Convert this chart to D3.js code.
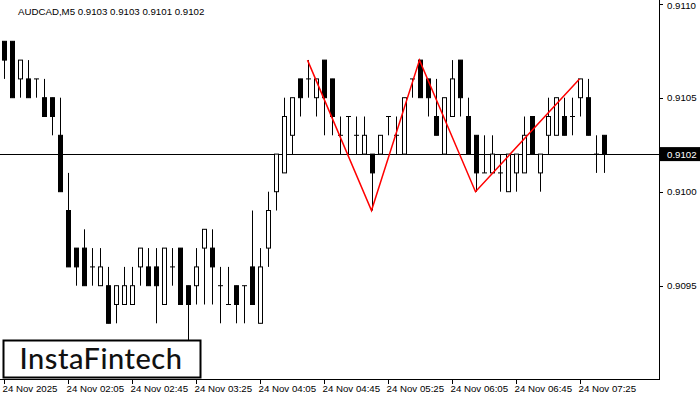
<!DOCTYPE html>
<html><head><meta charset="utf-8">
<script src="https://cdn.jsdelivr.net/npm/d3@7"></script>
<style>body{margin:0;background:#fff}svg{display:block;font-family:"Liberation Sans",sans-serif}</style>
</head><body><svg id="chart" width="700" height="400"></svg>
<script>
// price levels in pips above 0.9100
var opens  = [8,8,6,6,6,5,5,3,-1,-3,-3,-4,-5,-5,-6,-6,-6,-4,-4,-4,-6,-4,-3,-5,-5,-3,-3,-5,-6,-5,-5,-4,-7,-3,0,1,3,6,6,5,7,6,3,4,3,2,2,2,4,3,2,6,7,6,4,2,4,7,4,3,1,1,1,0,1,1,4,1,3,3,4,4,5,5,2,3];
var highs  = [8,8,7,7,6,6,5,5,1,-3,-2,-3,-3,-4,-5,-4,-4,-3,-3,-3,-3,-3,-3,-5,-3,-2,-2,-4,-4,-5,-5,-1,-3,0,2,5,5,6,7,6,7,6,4,4,4,4,2,3,4,4,5,6,7,6,6,5,7,7,5,3,3,3,2,2,2,4,4,2,5,5,5,5,6,6,3,3];
var lows   = [6,5,5,5,5,4,3,0,-4,-5,-5,-5,-5,-7,-7,-6,-6,-5,-5,-7,-6,-5,-6,-8,-6,-6,-6,-7,-6,-7,-7,-6,-7,-4,-1,1,2,4,5,4,3,3,2,2,2,2,-1,2,3,2,2,5,5,4,3,2,4,4,2,0,1,1,0,0,0,1,2,0,2,3,3,3,4,3,1,1];
var closes = [7,5,7,5,6,4,4,0,-4,-4,-5,-4,-4,-7,-5,-5,-5,-3,-5,-5,-3,-4,-6,-6,-4,-2,-4,-5,-6,-6,-5,-6,-4,-1,2,4,5,5,6,6,5,4,3,4,3,3,1,3,4,3,5,6,5,5,3,5,6,5,2,1,1,2,1,2,2,3,2,2,4,5,3,4,6,3,2,2];
var patternIdx = [38,46,52,59,72];
var patternLvl = [7,-1,7,0,6];
var priceTicks = [0.9110,0.9105,0.9100,0.9095];
var timeLabels = ["24 Nov 2025","24 Nov 02:05","24 Nov 02:45","24 Nov 03:25","24 Nov 04:05","24 Nov 04:45","24 Nov 05:25","24 Nov 06:05","24 Nov 06:45","24 Nov 07:25"];
var lastPrice = 0.9102;

var svg = d3.select("#chart");
var x = d3.scaleLinear().domain([0,1]).range([3.5,11.5]);
var y = d3.scaleLinear().domain([0.9100,0.9105]).range([191.7,97.7]);
var p = function(l){ return 0.9100 + l*0.0001; };
var fs = 9.7;

// frame
svg.append("line").attr("x1",659.5).attr("x2",659.5).attr("y1",0).attr("y2",380).attr("stroke","#000");
svg.append("line").attr("x1",0).attr("x2",660).attr("y1",379.5).attr("y2",379.5).attr("stroke","#000");

// price line
svg.append("line").attr("x1",0).attr("x2",659).attr("y1",Math.round(y(lastPrice))+0.5).attr("y2",Math.round(y(lastPrice))+0.5).attr("stroke","#000");

var c = svg.selectAll("g.c").data(opens).enter().append("g");
c.append("line")
  .attr("x1",function(d,i){return Math.round(x(i))+0.5;}).attr("x2",function(d,i){return Math.round(x(i))+0.5;})
  .attr("y1",function(d,i){return y(p(highs[i]));}).attr("y2",function(d,i){return y(p(lows[i]));})
  .attr("stroke","#000");
c.append("rect")
  .attr("x",function(d,i){return Math.round(x(i))-1.5;}).attr("width",4)
  .attr("y",function(d,i){return y(p(Math.max(d,closes[i])));})
  .attr("height",function(d,i){return Math.max(0.01,y(p(Math.min(d,closes[i])))-y(p(Math.max(d,closes[i]))));})
  .attr("fill",function(d,i){return closes[i]<d?"#000":"#fff";})
  .attr("stroke","#000");

// pattern
svg.append("path")
  .attr("d",d3.line()(patternIdx.map(function(d,k){return [x(d),y(p(patternLvl[k]))];})))
  .attr("fill","none").attr("stroke","#f00").attr("stroke-width",1.5);

// price axis
svg.selectAll("text.pt").data(priceTicks).enter().append("text")
  .attr("x",667).attr("y",function(d){return Math.max(y(d)+3.5,9);}).attr("font-size",fs).text(function(d){return d.toFixed(4);});
svg.selectAll("line.pt").data(priceTicks).enter().append("line")
  .attr("x1",659).attr("x2",663).attr("y1",function(d){return Math.round(y(d))+0.5;}).attr("y2",function(d){return Math.round(y(d))+0.5;}).attr("stroke","#000");
svg.append("rect").attr("x",660).attr("y",y(lastPrice)-7).attr("width",40).attr("height",14).attr("fill","#000");
svg.append("text").attr("x",667).attr("y",y(lastPrice)+3.5).attr("font-size",fs).attr("fill","#fff").text(lastPrice.toFixed(4));

// time axis
svg.selectAll("text.tl").data(timeLabels).enter().append("text")
  .attr("x",function(d,i){return x(i*8)-1;}).attr("y",392).attr("font-size",fs).text(function(d){return d;});
svg.selectAll("line.tl").data(timeLabels).enter().append("line")
  .attr("x1",function(d,i){return Math.round(x(i*8))+0.5;}).attr("x2",function(d,i){return Math.round(x(i*8))+0.5;})
  .attr("y1",380).attr("y2",384).attr("stroke","#000");

// title
svg.append("text").attr("x",18).attr("y",15).attr("font-size",fs).text("AUDCAD,M5  0.9103 0.9103 0.9101 0.9102");

// logo
svg.append("rect").attr("x",3.5).attr("y",340.5).attr("width",197).attr("height",37).attr("fill","#fff").attr("stroke","#000").attr("stroke-width",2);
svg.append("text").attr("x",101).attr("y",369).attr("text-anchor","middle").attr("font-family","Lato, sans-serif").attr("font-weight",500).attr("font-size",29).attr("letter-spacing",0.5).attr("fill","#111").text("InstaFintech");
</script></body></html>
